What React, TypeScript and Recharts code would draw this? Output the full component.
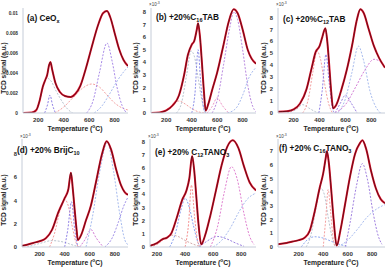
import { LineChart, Line, XAxis, YAxis } from "recharts";

type Pt = [number, number];

const xTicks = [200, 400, 600, 800];

// (a) CeOx
const aTotal: Pt[] = [[80, 0], [150, 0.00005], [185, 0.0003], [210, 0.0012], [235, 0.0026], [255, 0.0033], [270, 0.0038], [285, 0.0048], [295, 0.0051], [310, 0.0043], [335, 0.003], [370, 0.0021], [410, 0.0017], [455, 0.0016], [490, 0.0019], [530, 0.0027], [575, 0.0045], [620, 0.0066], [670, 0.0088], [710, 0.01], [740, 0.0102], [765, 0.0096], [800, 0.008], [835, 0.0064], [870, 0.0053], [905, 0.0047]];
const aGrey: Pt[] = [[170, 0], [200, 0.0008], [230, 0.0022], [266, 0.0035], [300, 0.0032], [340, 0.0022], [390, 0.0011], [430, 0.0004], [470, 0]];
const aNarrow: Pt[] = [[250, 0], [272, 0.0008], [292, 0.0018], [312, 0.0008], [335, 0]];
const aBroad: Pt[] = [[330, 0], [400, 0.0006], [470, 0.0015], [540, 0.0024], [620, 0.0029], [680, 0.0026], [740, 0.0018], [800, 0.001], [860, 0.0005], [905, 0.0003]];
const aMain: Pt[] = [[580, 0], [630, 0.0012], [680, 0.004], [740, 0.007], [780, 0.0052], [820, 0.0025], [860, 0.0007], [895, 0]];
const aRise: Pt[] = [[640, 0], [700, 0.0007], [760, 0.0019], [820, 0.0032], [870, 0.0041], [905, 0.0046]];

// (b) +20%C16TAB
const bTotal: Pt[] = [[80, 0], [150, 0.05], [200, 0.2], [250, 0.6], [300, 1.4], [340, 3], [370, 4.6], [400, 5.4], [420, 5.7], [440, 6.6], [450, 7.1], [465, 6], [480, 4], [495, 1.8], [510, 0.2], [530, 0.7], [560, 1.8], [600, 3.2], [650, 5.4], [690, 7.2], [730, 8.2], [760, 7.9], [800, 6.6], [840, 5], [870, 4.3], [905, 3.9]];
const bLow: Pt[] = [[150, 0], [200, 0.25], [250, 0.6], [300, 0.95], [350, 0.7], [400, 0.35], [450, 0.1], [500, 0]];
const bGrey: Pt[] = [[280, 0], [320, 0.8], [360, 3], [395, 4.9], [420, 4.5], [450, 2.8], [480, 1], [510, 0]];
const bNarrow: Pt[] = [[400, 0], [425, 1.5], [450, 5], [470, 2.5], [495, 0.3], [510, 0]];
const bSmall: Pt[] = [[520, 0], [560, 0.5], [600, 1.2], [640, 0.6], [690, 0]];
const bMain: Pt[] = [[560, 0], [600, 1], [650, 3.8], [700, 6.8], [730, 8], [760, 7.4], [800, 5], [840, 2.2], [880, 0.5], [905, 0.1]];
const bRise: Pt[] = [[680, 0], [750, 0.4], [800, 1.4], [850, 2.8], [905, 3.6]];

// (c) +20%C12TAB
const cTotal: Pt[] = [[80, 0.1], [150, 0.15], [200, 0.3], [250, 0.8], [300, 2], [340, 3.8], [370, 5.1], [400, 5.6], [420, 6.3], [445, 7.1], [460, 6], [475, 4], [490, 1.8], [505, 0.4], [530, 0.7], [570, 2], [610, 3.6], [650, 5.6], [690, 7.9], [715, 8.7], [740, 8.4], [780, 7], [820, 5.6], [860, 4.6], [905, 3.8]];
const cLow: Pt[] = [[150, 0], [220, 0.3], [270, 0.7], [320, 0.4], [370, 0.1], [400, 0]];
const cSalmon: Pt[] = [[270, 0], [310, 1], [350, 3.5], [380, 5.2], [410, 4.4], [440, 2.4], [470, 0.8], [500, 0]];
const cNarrow: Pt[] = [[395, 0], [420, 1.8], [450, 4.9], [475, 2.5], [500, 0.4], [515, 0]];
const cSmall: Pt[] = [[520, 0], [560, 0.8], [600, 1.5], [640, 0.9], [690, 0]];
const cMain: Pt[] = [[540, 0], [600, 1.2], [650, 3.4], [700, 5.6], [740, 4.4], [790, 1.8], [840, 0.4], [870, 0]];
const cHigh: Pt[] = [[520, 0], [600, 0.7], [680, 2.2], [750, 3.6], [820, 4.5], [870, 4.3], [905, 3.8]];

// (d) +20% BrijC10
const dTotal: Pt[] = [[60, 0.1], [100, 0.2], [150, 0.35], [200, 0.5], [250, 0.75], [300, 1.5], [350, 3], [400, 4.2], [430, 5], [450, 6.4], [465, 5], [480, 3.2], [495, 1.5], [505, 0.6], [530, 1], [570, 2.3], [610, 3.6], [650, 5.6], [700, 8.1], [735, 9.1], [770, 8.4], [810, 6.7], [850, 5.3], [880, 4.7], [905, 4.5]];
const dLow: Pt[] = [[100, 0], [200, 0.3], [300, 0.55], [400, 0.4], [470, 0.15], [520, 0]];
const dSalmon: Pt[] = [[280, 0], [320, 1.2], [360, 3], [400, 4.1], [430, 3.5], [460, 1.8], [490, 0.4], [510, 0]];
const dNarrow: Pt[] = [[400, 0], [425, 1.5], [455, 3.9], [480, 1.5], [505, 0]];
const dSmall: Pt[] = [[520, 0], [560, 0.6], [610, 1.5], [650, 0.8], [700, 0.1]];
const dMain: Pt[] = [[570, 0], [620, 2.5], [680, 6.5], [740, 9], [790, 6.5], [840, 2.8], [880, 0.6], [905, 0.2]];
const dRise: Pt[] = [[720, 0], [780, 0.8], [830, 2.2], [870, 3.5], [905, 4.3]];

// (e) +20% C12TANO3
const eTotal: Pt[] = [[150, 0.1], [200, 0.3], [240, 0.6], [270, 0.7], [300, 1], [340, 2.2], [380, 3.6], [410, 4.3], [430, 5.2], [450, 6.9], [465, 5.8], [480, 3.8], [495, 1.8], [515, 0.2], [540, 0.8], [580, 2.4], [620, 4.3], [660, 6.2], [700, 7.6], [740, 8.1], [780, 7.5], [820, 6.1], [860, 4.9], [905, 4.3]];
const eLow: Pt[] = [[150, 0], [200, 0.2], [250, 0.6], [300, 0.9], [350, 0.8], [400, 0.5], [450, 0.25], [500, 0.05]];
const eBlue: Pt[] = [[290, 0], [330, 1], [370, 2.8], [400, 3.7], [430, 3], [460, 1.6], [490, 0.4], [510, 0]];
const eNarrow: Pt[] = [[400, 0], [425, 1.8], [445, 4.7], [470, 2], [495, 0.2], [510, 0]];
const eSmall: Pt[] = [[500, 0], [550, 0.4], [630, 0.8], [700, 0.6], [760, 0.3], [820, 0.05]];
const eMain: Pt[] = [[580, 0], [630, 1.5], [680, 4.2], [730, 6.1], [770, 5.2], [820, 2.5], [860, 0.8], [890, 0.2]];
const eRise: Pt[] = [[600, 0], [660, 0.5], [720, 1.4], [780, 2.6], [840, 3.6], [905, 4.1]];

// (f) +20% C16TANO3
const fTotal: Pt[] = [[30, 0.2], [100, 0.3], [150, 0.4], [200, 0.5], [250, 0.7], [290, 1.2], [330, 2.6], [370, 4.3], [400, 5.4], [420, 6.5], [430, 7], [445, 6.2], [465, 4.2], [485, 2], [510, 0.1], [540, 1.2], [580, 3.2], [620, 5.2], [660, 6.8], [700, 7.6], [720, 7.8], [750, 7.2], [790, 5.6], [830, 4.3], [870, 3.5], [905, 3.2]];
const fGrey: Pt[] = [[260, 0], [300, 0.9], [340, 2.8], [380, 4.3], [410, 3.8], [440, 2.2], [470, 0.8], [500, 0]];
const fNarrow: Pt[] = [[400, 0], [420, 2], [440, 4.2], [460, 2.6], [480, 0.7], [495, 0]];
const fLow: Pt[] = [[220, 0], [280, 0.6], [330, 0.75], [400, 0.65], [470, 0.4], [530, 0.2], [600, 0.05]];
const fMain: Pt[] = [[580, 0], [620, 1.8], [670, 4.4], [720, 6.1], [760, 5], [810, 2.4], [850, 0.8], [880, 0.2]];
const fRise: Pt[] = [[520, 0], [600, 0.5], [680, 1.3], [760, 2.2], [840, 2.8], [905, 3.1]];

const GREY = "#b9c3cf";
const PURPLE = "#8f80e6";
const SALMON = "#f4a0a0";
const MAGENTA = "#d47ed6";
const LBLUE = "#a7bbee";
const PINK = "#ee98c8";
const AXIS = "#c5ccd8";
const FONT = "'Liberation Sans', Arial, sans-serif";

interface Comp {
  pts: Pt[];
  color: string;
}

interface PanelProps {
  box: [number, number, number, number];
  xDomain: [number, number];
  yDomain: [number, number];
  yTicks: number[];
  yFmt?: (v: number) => string;
  yFont?: number;
  total: Pt[];
  comps: Comp[];
}

const rows = (pts: Pt[]) => pts.map(([t, v]) => ({ t, v }));

function Panel({ box, xDomain, yDomain, yTicks, yFmt, yFont = 5.8, total, comps }: PanelProps) {
  const [x0, y0, x1, y1] = box;
  const yw = 22;
  const mt = 4;
  const xh = 12;
  const mr = 2;
  const width = x1 - x0 + yw + mr;
  const height = y1 - y0 + mt + xh;
  const tickStyle = { fontSize: 6.2, fontWeight: 700, fill: "#333", fontFamily: FONT };
  return (
    <div style={{ position: "absolute", left: x0 - yw, top: y0 - mt }}>
      <LineChart width={width} height={height} margin={{ top: mt, right: mr, bottom: 0, left: 0 }}>
        <XAxis
          dataKey="t"
          type="number"
          domain={xDomain}
          ticks={xTicks}
          allowDataOverflow
          height={xh}
          tickLine={false}
          tickSize={3}
          axisLine={{ stroke: AXIS }}
          tick={tickStyle}
        />
        <XAxis xAxisId="top" orientation="top" dataKey="t" type="number" domain={xDomain} height={0} tick={false} tickLine={false} axisLine={{ stroke: AXIS }} />
        <YAxis
          type="number"
          domain={yDomain}
          ticks={yTicks}
          allowDataOverflow
          width={yw}
          tickLine={false}
          tickSize={3}
          axisLine={{ stroke: AXIS }}
          tick={{ ...tickStyle, fontSize: yFont }}
          tickFormatter={yFmt}
        />
        <YAxis yAxisId="right" orientation="right" type="number" domain={yDomain} width={0} tick={false} tickLine={false} axisLine={{ stroke: AXIS }} />
        {comps.map((c, i) => (
          <Line
            key={i}
            data={rows(c.pts)}
            dataKey="v"
            type="monotone"
            stroke={c.color}
            strokeWidth={1}
            strokeDasharray="2 1.5"
            dot={false}
            isAnimationActive={false}
          />
        ))}
        <Line data={rows(total)} dataKey="v" type="monotone" stroke="#e3122c" strokeWidth={2} dot={false} isAnimationActive={false} />
        <Line data={rows(total)} dataKey="v" type="monotone" stroke="#2b0b10" strokeWidth={0.7} dot={false} isAnimationActive={false} />
      </LineChart>
    </div>
  );
}

const unitTicks8 = [0, 1, 2, 3, 4, 5, 6, 7, 8];

function Labels() {
  const yl = (x: number, y: number, k: string) => (
    <text key={k} x={x} y={y} transform={`rotate(-90 ${x} ${y})`} textAnchor="middle" fontSize={6.5} fontWeight={700} fill="#222">
      TCD signal (a.u.)
    </text>
  );
  const xl = (x: number, y: number, k: string) => (
    <text key={k} x={x} y={y} textAnchor="middle" fontSize={6.8} fontWeight={700} fill="#222">
      Temperature (<tspan dy={-3} fontSize={4.8}>o</tspan><tspan dy={3}>C)</tspan>
    </text>
  );
  const exp = (x: number, y: number, k: string) => (
    <text key={k} x={x} y={y} fontSize={4.5} fill="#444">
      ×10<tspan dy={-2} fontSize={3.5}>-3</tspan>
    </text>
  );
  const title = { fontSize: 8.3, fontWeight: 700, fill: "#111" } as const;
  return (
    <svg width={387} height={268} style={{ position: "absolute", left: 0, top: 0, fontFamily: FONT, pointerEvents: "none" }}>
      {yl(5.5, 68, "ya")}
      {yl(138, 68, "yb")}
      {yl(266, 68, "yc")}
      {yl(6, 200, "yd")}
      {yl(138, 200, "ye")}
      {yl(266, 200, "yf")}
      {xl(75, 131, "xa")}
      {xl(203, 131, "xb")}
      {xl(331, 131, "xc")}
      {xl(75, 265, "xd")}
      {xl(203, 265, "xe")}
      {xl(331, 265, "xf")}
      {exp(149, 6, "eb")}
      {exp(276, 6, "ec")}
      {exp(20, 138, "ed")}
      {exp(148, 138, "ee")}
      {exp(276, 138, "ef")}
      <text x={27} y={21} {...title}>
        (a) CeO<tspan dy={2} fontSize={5.5}>x</tspan>
      </text>
      <text x={156} y={20} {...title}>
        (b) +20%C<tspan dy={2} fontSize={5.5}>16</tspan><tspan dy={-2}>TAB</tspan>
      </text>
      <text x={283} y={22} {...title}>
        (c) +20%C<tspan dy={2} fontSize={5.5}>12</tspan><tspan dy={-2}>TAB</tspan>
      </text>
      <text x={17} y={153} {...title}>
        (d) +20% BrijC<tspan dy={2} fontSize={5.5}>10</tspan>
      </text>
      <text x={155} y={155} {...title}>
        (e) +20% C<tspan dy={2} fontSize={5.5}>12</tspan><tspan dy={-2}>TANO</tspan><tspan dy={2} fontSize={5.5}>3</tspan>
      </text>
      <text x={279} y={151} {...title}>
        (f) +20% C<tspan dy={2} fontSize={5.5}>16</tspan><tspan dy={-2}>TANO</tspan><tspan dy={2} fontSize={5.5}>3</tspan>
      </text>
    </svg>
  );
}

export default function App() {
  return (
    <div style={{ position: "absolute", left: 0, top: 0, width: 387, height: 268, background: "#fff", fontFamily: FONT }}>
      <Panel
        box={[23, 8, 128, 113]}
        xDomain={[80, 905]}
        yDomain={[0, 0.0105]}
        yTicks={[0, 0.002, 0.004, 0.006, 0.008, 0.01]}
        yFmt={(v) => (v === 0 ? "0" : String(+v.toFixed(3)))}
        yFont={4.8}
        total={aTotal}
        comps={[
          { pts: aGrey, color: GREY },
          { pts: aNarrow, color: PURPLE },
          { pts: aBroad, color: SALMON },
          { pts: aMain, color: "#a88ae8" },
          { pts: aRise, color: LBLUE },
        ]}
      />
      <Panel
        box={[151, 8, 256, 113]}
        xDomain={[80, 905]}
        yDomain={[0, 8.3]}
        yTicks={unitTicks8}
        total={bTotal}
        comps={[
          { pts: bLow, color: SALMON },
          { pts: bGrey, color: GREY },
          { pts: bNarrow, color: "#8c8ee8" },
          { pts: bSmall, color: PINK },
          { pts: bMain, color: "#b98ae0" },
          { pts: bRise, color: LBLUE },
        ]}
      />
      <Panel
        box={[278, 8, 385, 113]}
        xDomain={[80, 905]}
        yDomain={[0, 8.8]}
        yTicks={unitTicks8}
        total={cTotal}
        comps={[
          { pts: cLow, color: GREY },
          { pts: cSalmon, color: SALMON },
          { pts: cNarrow, color: PURPLE },
          { pts: cSmall, color: "#9a7fe0" },
          { pts: cMain, color: LBLUE },
          { pts: cHigh, color: MAGENTA },
        ]}
      />
      <Panel
        box={[22, 139, 128, 247]}
        xDomain={[60, 905]}
        yDomain={[0, 9.3]}
        yTicks={[0, 2, 4, 6, 8]}
        total={dTotal}
        comps={[
          { pts: dLow, color: GREY },
          { pts: dSalmon, color: SALMON },
          { pts: dNarrow, color: PURPLE },
          { pts: dSmall, color: MAGENTA },
          { pts: dMain, color: LBLUE },
          { pts: dRise, color: "#a090e8" },
        ]}
      />
      <Panel
        box={[150, 139, 256, 247]}
        xDomain={[150, 905]}
        yDomain={[0, 8.2]}
        yTicks={unitTicks8}
        total={eTotal}
        comps={[
          { pts: eLow, color: "#d2a8a8" },
          { pts: eBlue, color: "#8aa0f0" },
          { pts: eNarrow, color: "#f59090" },
          { pts: eSmall, color: "#9a80e0" },
          { pts: eMain, color: "#e080d0" },
          { pts: eRise, color: LBLUE },
        ]}
      />
      <Panel
        box={[278, 139, 385, 247]}
        xDomain={[30, 905]}
        yDomain={[0, 7.9]}
        yTicks={[0, 1, 2, 3, 4, 5, 6, 7]}
        total={fTotal}
        comps={[
          { pts: fGrey, color: GREY },
          { pts: fNarrow, color: SALMON },
          { pts: fLow, color: "#90a8f0" },
          { pts: fMain, color: "#a080e0" },
          { pts: fRise, color: "#a8bcf0" },
        ]}
      />
      <Labels />
    </div>
  );
}
